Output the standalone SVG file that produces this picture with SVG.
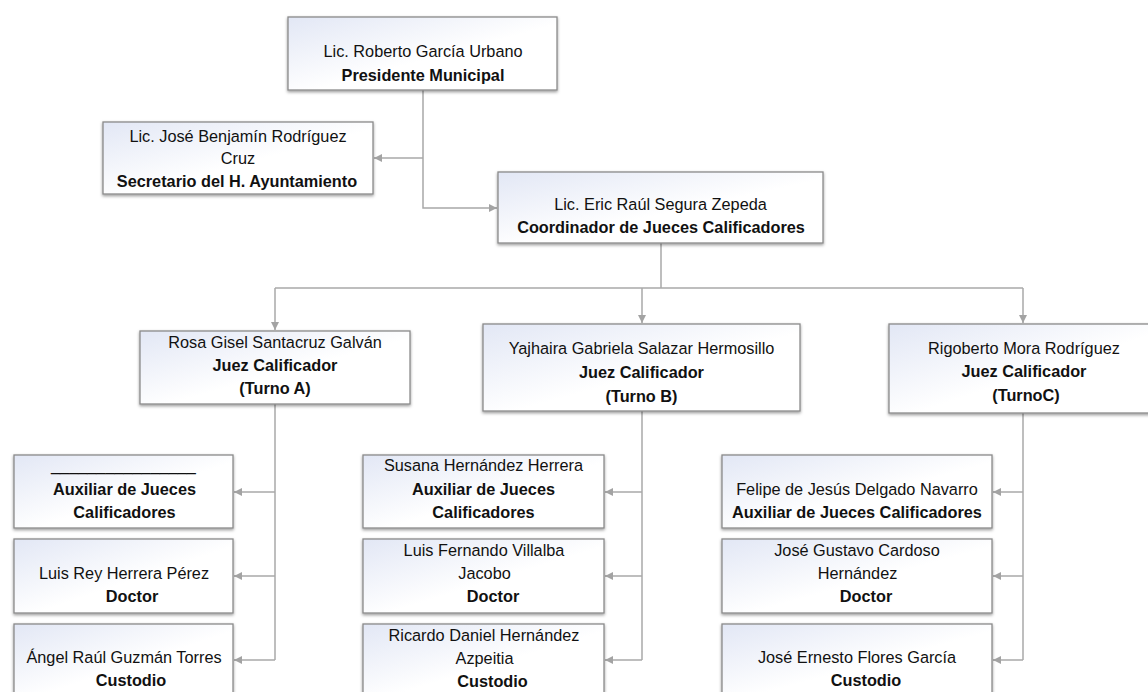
<svg xmlns="http://www.w3.org/2000/svg" width="1148" height="692" viewBox="0 0 1148 692">
<defs>
<linearGradient id="g" x1="0" y1="0" x2="1" y2="1">
<stop offset="0" stop-color="#e2e7f5"/>
<stop offset="0.55" stop-color="#ffffff"/>
<stop offset="1" stop-color="#ffffff"/>
</linearGradient>
<filter id="sh" x="-10%" y="-15%" width="120%" height="140%">
<feDropShadow dx="0" dy="1.5" stdDeviation="1.5" flood-color="#000000" flood-opacity="0.4"/>
</filter>
<marker id="arr" markerWidth="9" markerHeight="9" refX="8" refY="4.5" orient="auto" markerUnits="userSpaceOnUse">
<path d="M0,0.5 L8,4.5 L0,8.5 z" fill="#a3a3a3"/>
</marker>
<style>
.box{fill:url(#g);stroke:#8a8a8a;stroke-width:1.3;filter:url(#sh)}
.c{fill:none;stroke:#a8a8a8;stroke-width:1.5}
.a{marker-end:url(#arr)}
text{font-family:"Liberation Sans",Arial,sans-serif;font-size:16.3px;fill:#111;text-anchor:middle}
.b{font-weight:bold}
</style>
</defs>
<rect width="1148" height="692" fill="#ffffff"/>

<g id="connectors">
<path class="c a" d="M423,90 V208 H497"/>
<path class="c a" d="M423,158 H374"/>
<path class="c" d="M661,243 V288"/>
<path class="c" d="M275,288 H1023"/>
<path class="c a" d="M275,288 V330"/>
<path class="c a" d="M642,288 V323"/>
<path class="c a" d="M1023,288 V323"/>
<path class="c" d="M275,404 V660"/>
<path class="c a" d="M275,492 H234"/>
<path class="c a" d="M275,576 H234"/>
<path class="c a" d="M275,660 H234"/>
<path class="c" d="M642,411 V660"/>
<path class="c a" d="M642,492 H605"/>
<path class="c a" d="M642,576 H605"/>
<path class="c a" d="M642,660 H605"/>
<path class="c" d="M1023,413 V660"/>
<path class="c a" d="M1023,492 H993"/>
<path class="c a" d="M1023,576 H993"/>
<path class="c a" d="M1023,660 H993"/>
</g>

<g id="presidente">
<rect class="box" x="288" y="17" width="269" height="73"/>
<text x="423" y="57">Lic. Roberto García Urbano</text>
<text class="b" x="423" y="81">Presidente Municipal</text>
</g>

<g id="secretario">
<rect class="box" x="103" y="122" width="270" height="72"/>
<text x="238" y="141.5">Lic. José Benjamín Rodríguez</text>
<text x="238" y="164">Cruz</text>
<text class="b" x="237" y="186.5">Secretario del H. Ayuntamiento</text>
</g>

<g id="coordinador">
<rect class="box" x="498" y="172" width="325" height="71"/>
<text x="660.5" y="209.5">Lic. Eric Raúl Segura Zepeda</text>
<text class="b" x="661" y="233">Coordinador de Jueces Calificadores</text>
</g>

<g id="juez-a">
<rect class="box" x="140" y="331" width="270" height="73"/>
<text x="275" y="347.5">Rosa Gisel Santacruz Galván</text>
<text class="b" x="275" y="370.5">Juez Calificador</text>
<text class="b" x="275" y="393.5">(Turno A)</text>
</g>

<g id="juez-b">
<rect class="box" x="483" y="324" width="317" height="87"/>
<text x="641.5" y="354">Yajhaira Gabriela Salazar Hermosillo</text>
<text class="b" x="641.5" y="378">Juez Calificador</text>
<text class="b" x="641.5" y="402">(Turno B)</text>
</g>

<g id="juez-c">
<rect class="box" x="889" y="324" width="268" height="89"/>
<text x="1024" y="353.5">Rigoberto Mora Rodríguez</text>
<text class="b" x="1024" y="377">Juez Calificador</text>
<text class="b" x="1026" y="400.5">(TurnoC)</text>
</g>

<g id="auxiliar-a">
<rect class="box" x="14" y="455" width="219" height="73"/>
<text x="123.5" y="471">________________</text>
<text class="b" x="124.5" y="495">Auxiliar de Jueces</text>
<text class="b" x="124.5" y="517.5">Calificadores</text>
</g>

<g id="doctor-a">
<rect class="box" x="14" y="539" width="219" height="74"/>
<text x="124" y="579">Luis Rey Herrera Pérez</text>
<text class="b" x="132" y="602">Doctor</text>
</g>

<g id="custodio-a">
<rect class="box" x="14" y="624" width="219" height="73"/>
<text x="124" y="662.5">Ángel Raúl Guzmán Torres</text>
<text class="b" x="131" y="685.5">Custodio</text>
</g>

<g id="auxiliar-b">
<rect class="box" x="363" y="455" width="241" height="73"/>
<text x="483.5" y="471">Susana Hernández Herrera</text>
<text class="b" x="483.5" y="495">Auxiliar de Jueces</text>
<text class="b" x="483.5" y="517.5">Calificadores</text>
</g>

<g id="doctor-b">
<rect class="box" x="363" y="539" width="241" height="74"/>
<text x="484" y="556">Luis Fernando Villalba</text>
<text x="484.5" y="578.5">Jacobo</text>
<text class="b" x="493" y="602">Doctor</text>
</g>

<g id="custodio-b">
<rect class="box" x="363" y="624" width="241" height="73"/>
<text x="484" y="641">Ricardo Daniel Hernández</text>
<text x="484.5" y="664">Azpeitia</text>
<text class="b" x="492.5" y="686.5">Custodio</text>
</g>

<g id="auxiliar-c">
<rect class="box" x="722" y="455" width="270" height="73"/>
<text x="857" y="495">Felipe de Jesús Delgado Navarro</text>
<text class="b" x="857" y="517.5">Auxiliar de Jueces Calificadores</text>
</g>

<g id="doctor-c">
<rect class="box" x="722" y="539" width="270" height="74"/>
<text x="857" y="556">José Gustavo Cardoso</text>
<text x="857.5" y="578.5">Hernández</text>
<text class="b" x="866" y="602">Doctor</text>
</g>

<g id="custodio-c">
<rect class="box" x="722" y="624" width="270" height="73"/>
<text x="857" y="663">José Ernesto Flores García</text>
<text class="b" x="866" y="686">Custodio</text>
</g>
</svg>
